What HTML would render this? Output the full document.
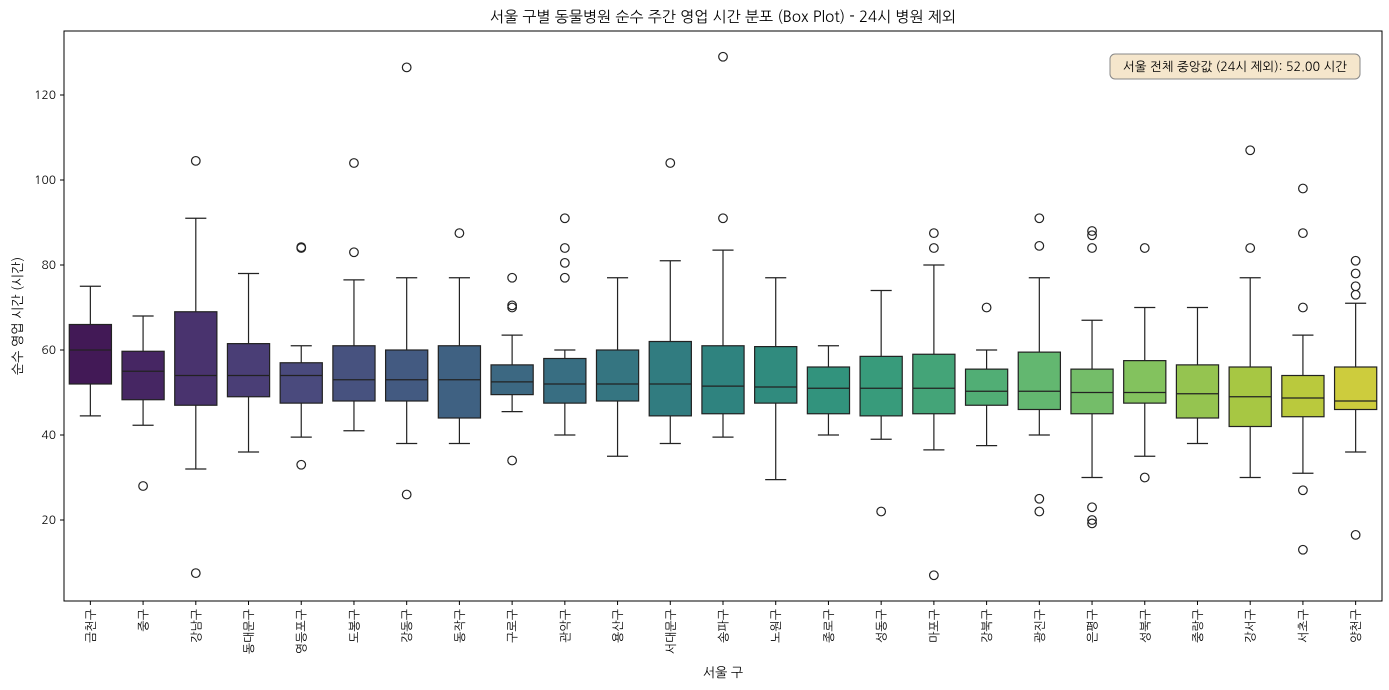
<!DOCTYPE html>
<html><head><meta charset="utf-8"><style>
body{margin:0;background:#fff}
svg{display:block;font-family:"NanumGothic","Liberation Sans","Noto Sans CJK KR",sans-serif}
</style></head><body>
<svg id="c" width="1389" height="690" viewBox="0 0 1389 690">
<rect x="0" y="0" width="1389" height="690" fill="#fff"/>
<text x="723" y="22" text-anchor="middle" font-size="15" fill="#000">서울 구별 동물병원 순수 주간 영업 시간 분포 (Box Plot) - 24시 병원 제외</text>
<g id="plot"></g>
<rect x="64" y="31" width="1318" height="570" fill="none" stroke="#000" stroke-width="1"/>
<text transform="translate(22,316) rotate(-90)" text-anchor="middle" font-size="13">순수 영업 시간 (시간)</text>
<text x="723" y="677" text-anchor="middle" font-size="13">서울 구</text>
<g>
<rect x="1110" y="54" width="250" height="25" rx="5" fill="#f5e6cc" stroke="#888" stroke-width="1"/>
<text x="1235" y="71" text-anchor="middle" font-size="12.5">서울 전체 중앙값 (24시 제외): 52.00 시간</text>
</g>
</svg>
<script>
const categories=["금천구","중구","강남구","동대문구","영등포구","도봉구","강동구","동작구","구로구","관악구","용산구","서대문구","송파구","노원구","종로구","성동구","마포구","강북구","광진구","은평구","성북구","중랑구","강서구","서초구","양천구"];
const whiskerLow=[44.5,42.3,32,36,39.5,41,38,38,45.5,40,35,38,39.5,29.5,40,39,36.5,37.5,40,30,35,38,30,31,36];
const q1=[52,48.3,47,49,47.5,48,48,44,49.5,47.5,48,44.5,45,47.5,45,44.5,45,47,46,45,47.5,44,42,44.3,46];
const medians=[60,55,54,54,54,53,53,53,52.5,52,52,52,51.5,51.3,51,51,51,50.3,50.3,50,50,49.7,49,48.7,48];
const q3=[66,59.7,69,61.5,57,61,60,61,56.5,58,60,62,61,60.8,56,58.5,59,55.5,59.5,55.5,57.5,56.5,56,54,56];
const whiskerHigh=[75,68,91,78,61,76.5,77,77,63.5,60,77,81,83.5,77,61,74,80,60,77,67,70,70,77,63.5,71];
const outliers=[[],[28],[104.5,7.5],[],[84,84.2,33],[104,83],[126.5,26],[87.5],[77,70.5,70,34],[91,84,80.5,77],[],[104],[129,91],[],[],[22],[87.5,84,7],[70],[91,84.5,25,22],[88,87,84,23,20,19.2],[84,30],[],[107,84],[98,87.5,70,27,13],[81,78,75,73,16.5]];
const yTicks=[20,40,60,80,100,120];

const L=64,R=1382,T=31,B=601;
const yScale=v=>605-4.25*v;
const step=(R-L)/categories.length;
const xScale=i=>L+step*(i+0.5);
const NS="http://www.w3.org/2000/svg";
const g=document.getElementById('plot');
function mk(tag,attrs,parent){const e=document.createElementNS(NS,tag);for(const k in attrs)e.setAttribute(k,attrs[k]);(parent||g).appendChild(e);return e;}

const stops=["#440154","#482475","#414487","#355f8d","#2a788e","#21918c","#22a884","#44bf70","#7ad151","#bddf26","#fde725"];
function hex(h){return [1,3,5].map(i=>parseInt(h.substr(i,2),16)/255);}
function viridis(t){const p=t*10,i=Math.min(9,Math.floor(p)),f=p-i;const a=hex(stops[i]),b=hex(stops[i+1]);return a.map((v,k)=>v+(b[k]-v)*f);}
function desat([r,gg,b],s){const mx=Math.max(r,gg,b),mn=Math.min(r,gg,b),l=(mx+mn)/2;let h=0,sat=0;if(mx!==mn){const d=mx-mn;sat=l>0.5?d/(2-mx-mn):d/(mx+mn);if(mx===r)h=((gg-b)/d+(gg<b?6:0));else if(mx===gg)h=(b-r)/d+2;else h=(r-gg)/d+4;h/=6;}sat*=s;
 function hue(p,q,t){if(t<0)t+=1;if(t>1)t-=1;if(t<1/6)return p+(q-p)*6*t;if(t<1/2)return q;if(t<2/3)return p+(q-p)*(2/3-t)*6;return p;}
 if(sat===0)return [l,l,l];const q=l<0.5?l*(1+sat):l+sat-l*sat,p=2*l-q;return [hue(p,q,h+1/3),hue(p,q,h),hue(p,q,h-1/3)];}
function rgb(c){return 'rgb('+c.map(v=>Math.round(v*255)).join(',')+')';}

// y ticks
yTicks.forEach(v=>{
 const y=yScale(v);
 const t=mk('line',{x1:L-4,x2:L,y1:y,y2:y,stroke:'#000'});
 
 
 const tx=mk('text',{x:L-8,y:y+4,'text-anchor':'end','font-size':12});
 tx.textContent=v;
 
 
});

categories.forEach((name,i)=>{
 const x=xScale(i),bw=step*0.8,cw=bw/2;
 const col=rgb(desat(viridis((i+1)/(categories.length+1)),0.75));
 const grp=mk('g',{});
 
 
 const line=(x1,y1,x2,y2)=>mk('line',{x1,y1,x2,y2,stroke:'#222','stroke-width':1.2},grp);
 line(x,yScale(q3[i]),x,yScale(whiskerHigh[i]));
 line(x,yScale(q1[i]),x,yScale(whiskerLow[i]));
 line(x-cw/2,yScale(whiskerHigh[i]),x+cw/2,yScale(whiskerHigh[i]));
 line(x-cw/2,yScale(whiskerLow[i]),x+cw/2,yScale(whiskerLow[i]));
 mk('rect',{x:x-bw/2,y:yScale(q3[i]),width:bw,height:yScale(q1[i])-yScale(q3[i]),fill:col,stroke:'#222','stroke-width':1.2},grp);
 line(x-bw/2,yScale(medians[i]),x+bw/2,yScale(medians[i]));
 outliers[i].forEach(v=>{
  const c=mk('circle',{cx:x,cy:yScale(v),r:4.3,fill:'none',stroke:'#222','stroke-width':1.2},grp);
  
  
 });
 const tk=mk('line',{x1:x,x2:x,y1:B,y2:B+4,stroke:'#000'});
 
 
 const lb=mk('text',{transform:`translate(${x+4.5},${B+8}) rotate(-90)`,'text-anchor':'end','font-size':12});
 lb.textContent=name;
 
 
});
</script>
</body></html>
